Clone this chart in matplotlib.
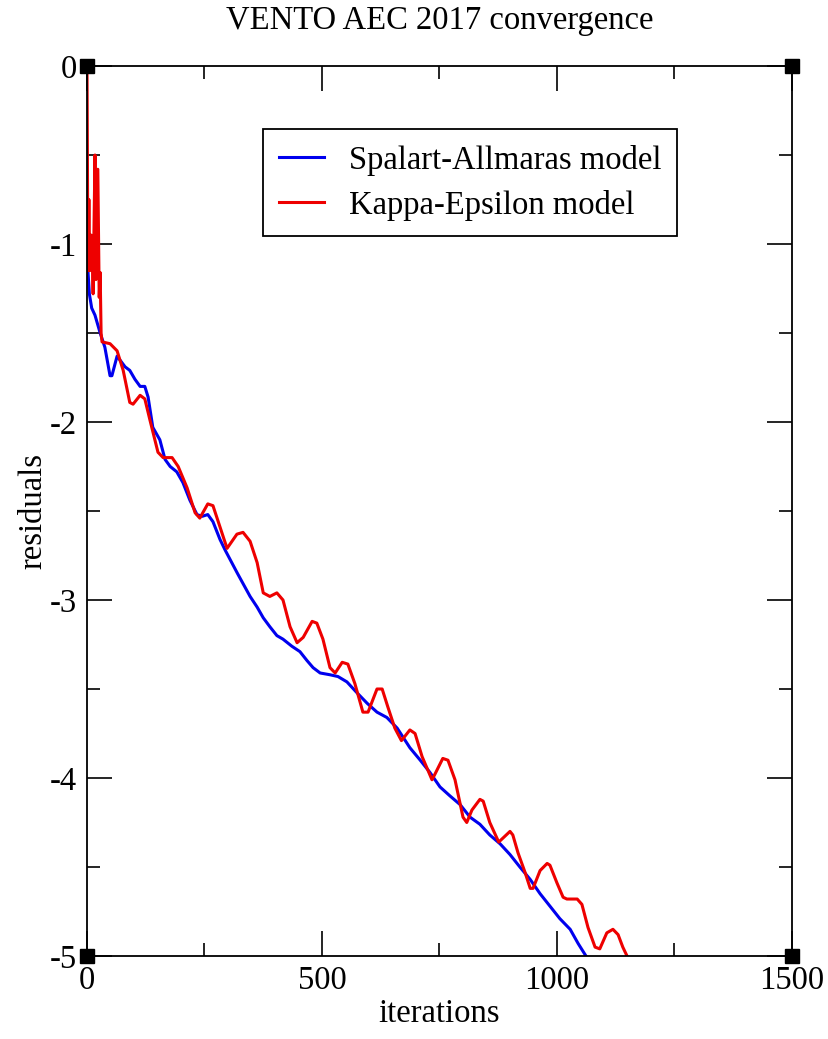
import matplotlib.pyplot as plt
from matplotlib.ticker import MultipleLocator

plt.rcParams['font.family'] = ['Liberation Serif', 'DejaVu Serif']
plt.rcParams['axes.unicode_minus'] = False

# Spalart-Allmaras residuals
sa_iter = [0, 2, 5, 10, 17, 28, 38, 49, 53, 64, 81, 91, 102, 113, 123, 130, 140, 155,
           166, 177, 191, 204, 219, 234, 245, 257, 268, 283, 294, 320, 347, 362, 375,
           389, 404, 417, 436, 453, 468, 481, 496, 517, 534, 553, 574, 596, 617, 638,
           660, 687, 709, 730, 751, 772, 794, 815, 836, 857, 879, 900, 921, 943, 964,
           985, 1006, 1028, 1045, 1064]
sa_res = [-1.05, -1.15, -1.28, -1.36, -1.40, -1.50, -1.58, -1.74, -1.74, -1.63, -1.69,
          -1.71, -1.76, -1.80, -1.80, -1.86, -2.03, -2.10, -2.21, -2.25, -2.28, -2.34,
          -2.44, -2.52, -2.53, -2.52, -2.56, -2.66, -2.72, -2.85, -2.98, -3.04, -3.10,
          -3.15, -3.20, -3.22, -3.26, -3.29, -3.34, -3.38, -3.41, -3.42, -3.43, -3.46,
          -3.52, -3.58, -3.63, -3.66, -3.72, -3.83, -3.90, -3.97, -4.05, -4.10, -4.15,
          -4.22, -4.26, -4.32, -4.37, -4.43, -4.50, -4.57, -4.65, -4.72, -4.79, -4.85,
          -4.93, -5.01]

# Kappa-Epsilon residuals
ke_iter = [0, 2, 4, 6, 9, 11, 13, 17, 19, 23, 26, 28, 30, 32, 49, 64, 77, 91, 98, 113,
           123, 134, 151, 162, 181, 194, 213, 230, 240, 257, 268, 283, 298, 319, 332,
           347, 362, 375, 389, 404, 417, 432, 447, 460, 479, 489, 502, 517, 528, 543,
           555, 570, 587, 598, 617, 628, 640, 655, 669, 687, 698, 713, 734, 740, 757,
           768, 783, 800, 808, 819, 836, 843, 857, 876, 900, 906, 917, 932, 943, 949,
           964, 979, 985, 1000, 1013, 1021, 1043, 1053, 1066, 1081, 1091, 1106, 1119,
           1130, 1140, 1149]
ke_res = [0.0, -1.15, -0.75, -1.15, -0.95, -1.0, -1.28, -0.5, -1.2, -0.58, -1.3, -1.16,
          -1.5, -1.55, -1.56, -1.60, -1.71, -1.89, -1.90, -1.85, -1.87, -1.99, -2.17,
          -2.20, -2.20, -2.25, -2.37, -2.51, -2.54, -2.46, -2.47, -2.59, -2.71, -2.63,
          -2.62, -2.67, -2.79, -2.96, -2.98, -2.96, -3.0, -3.15, -3.24, -3.21, -3.12,
          -3.13, -3.22, -3.38, -3.41, -3.35, -3.36, -3.47, -3.63, -3.63, -3.50, -3.50,
          -3.60, -3.72, -3.79, -3.73, -3.75, -3.88, -4.01, -3.98, -3.89, -3.90, -4.01,
          -4.22, -4.25, -4.18, -4.12, -4.13, -4.25, -4.36, -4.30, -4.32, -4.42, -4.53,
          -4.62, -4.62, -4.52, -4.48, -4.49, -4.59, -4.67, -4.68, -4.68, -4.71, -4.84,
          -4.95, -4.96, -4.87, -4.85, -4.88, -4.95, -5.0]

corner_x = [0, 1500, 0, 1500]
corner_y = [0, 0, -5, -5]

fig = plt.figure(figsize=(8.29, 10.39), dpi=100)
ax = fig.add_axes([87 / 829, 1 - 956 / 1039, 705 / 829, 890 / 1039])

ax.plot(sa_iter, sa_res, color='#0000ee', lw=2.2, label='Spalart-Allmaras model')
ax.plot(ke_iter, ke_res, color='#ee0000', lw=2.2, label='Kappa-Epsilon model')
ax.plot(corner_x, corner_y, ls='none', marker='s', ms=10, color='black', clip_on=False)

ax.set_xlim(0, 1500)
ax.set_ylim(-5, 0)
ax.xaxis.set_major_locator(MultipleLocator(500))
ax.xaxis.set_minor_locator(MultipleLocator(250))
ax.yaxis.set_major_locator(MultipleLocator(1))
ax.yaxis.set_minor_locator(MultipleLocator(0.5))
ax.tick_params(which='both', direction='in', top=True, right=True, labelsize=23.5,
               width=1.2, pad=7)
ax.tick_params(which='major', length=18)
ax.tick_params(which='minor', length=9.5)
for s in ax.spines.values():
    s.set_linewidth(1.3)

fig.text(0.53, 1 - 21 / 1039, 'VENTO AEC 2017 convergence', fontsize=23.5,
         ha='center', va='center')
ax.set_xlabel('iterations', fontsize=23.5, labelpad=2)
ax.set_ylabel('residuals', fontsize=23.5)
ax.yaxis.set_label_coords(-0.055, 0.5)

leg = ax.legend(loc='upper left', bbox_to_anchor=(0.2496, 0.929), borderaxespad=0,
                fontsize=23.5, fancybox=False, edgecolor='black', framealpha=1,
                handlelength=1.4, handletextpad=0.75, labelspacing=0.42,
                borderpad=0.48)
leg.get_frame().set_linewidth(1.3)

fig.savefig('out.png', dpi=100)
